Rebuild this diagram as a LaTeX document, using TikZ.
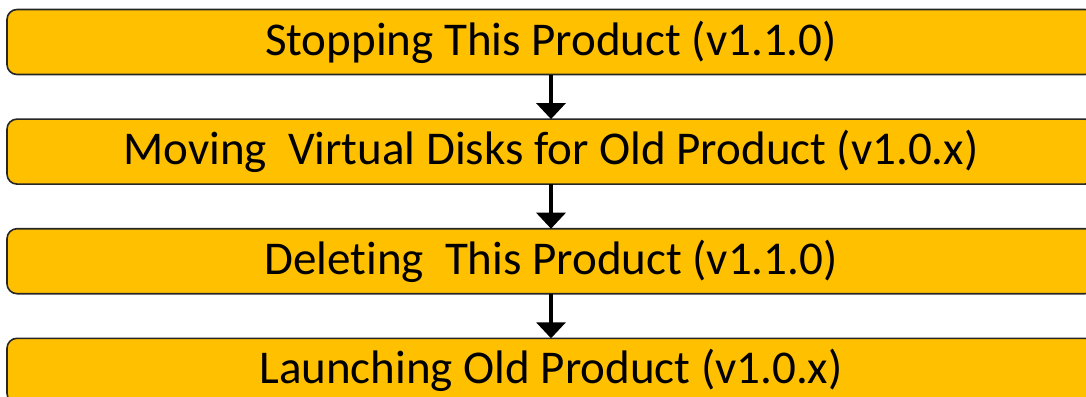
\documentclass[tikz,border=0pt]{standalone}
\usepackage{fontspec}
\setmainfont[Ligatures=NoCommon]{Carlito}
\usetikzlibrary{positioning}
\usetikzlibrary{arrows.meta}
\definecolor{stepgold}{HTML}{FFC000}
\tikzset{
    stepbox/.style={draw=black!85, line width=1.6pt, fill=stepgold, rounded corners=10pt,
        minimum width=1088pt, minimum height=65pt, inner sep=0pt,
        font=\fontsize{47}{54}\selectfont},
    flow/.style={line width=3.5pt, -{Triangle[width=29pt,length=16pt]}, shorten <=-0.8pt, shorten >=-0.8pt}
}

\begin{document}
\begin{tikzpicture}[x=1pt,y=1pt]
            \useasboundingbox (0,0) rectangle (1086,-396);

            \node (s1) [stepbox] at (551,-42) {Stopping This Product (v1.1.0)};
            \node (s2) [stepbox, below=43pt of s1] {Moving\ \ Virtual Disks for Old Product (v1.0.x)};
            \node (s3) [stepbox, below=43pt of s2] {Deleting\ \ This Product (v1.1.0)};
            \node (s4) [stepbox, below=43pt of s3] {Launching Old Product (v1.0.x)};

            \draw [flow] (s1) -- (s2);
            \draw [flow] (s2) -- (s3);
            \draw [flow] (s3) -- (s4);
        \end{tikzpicture}
\end{document}
